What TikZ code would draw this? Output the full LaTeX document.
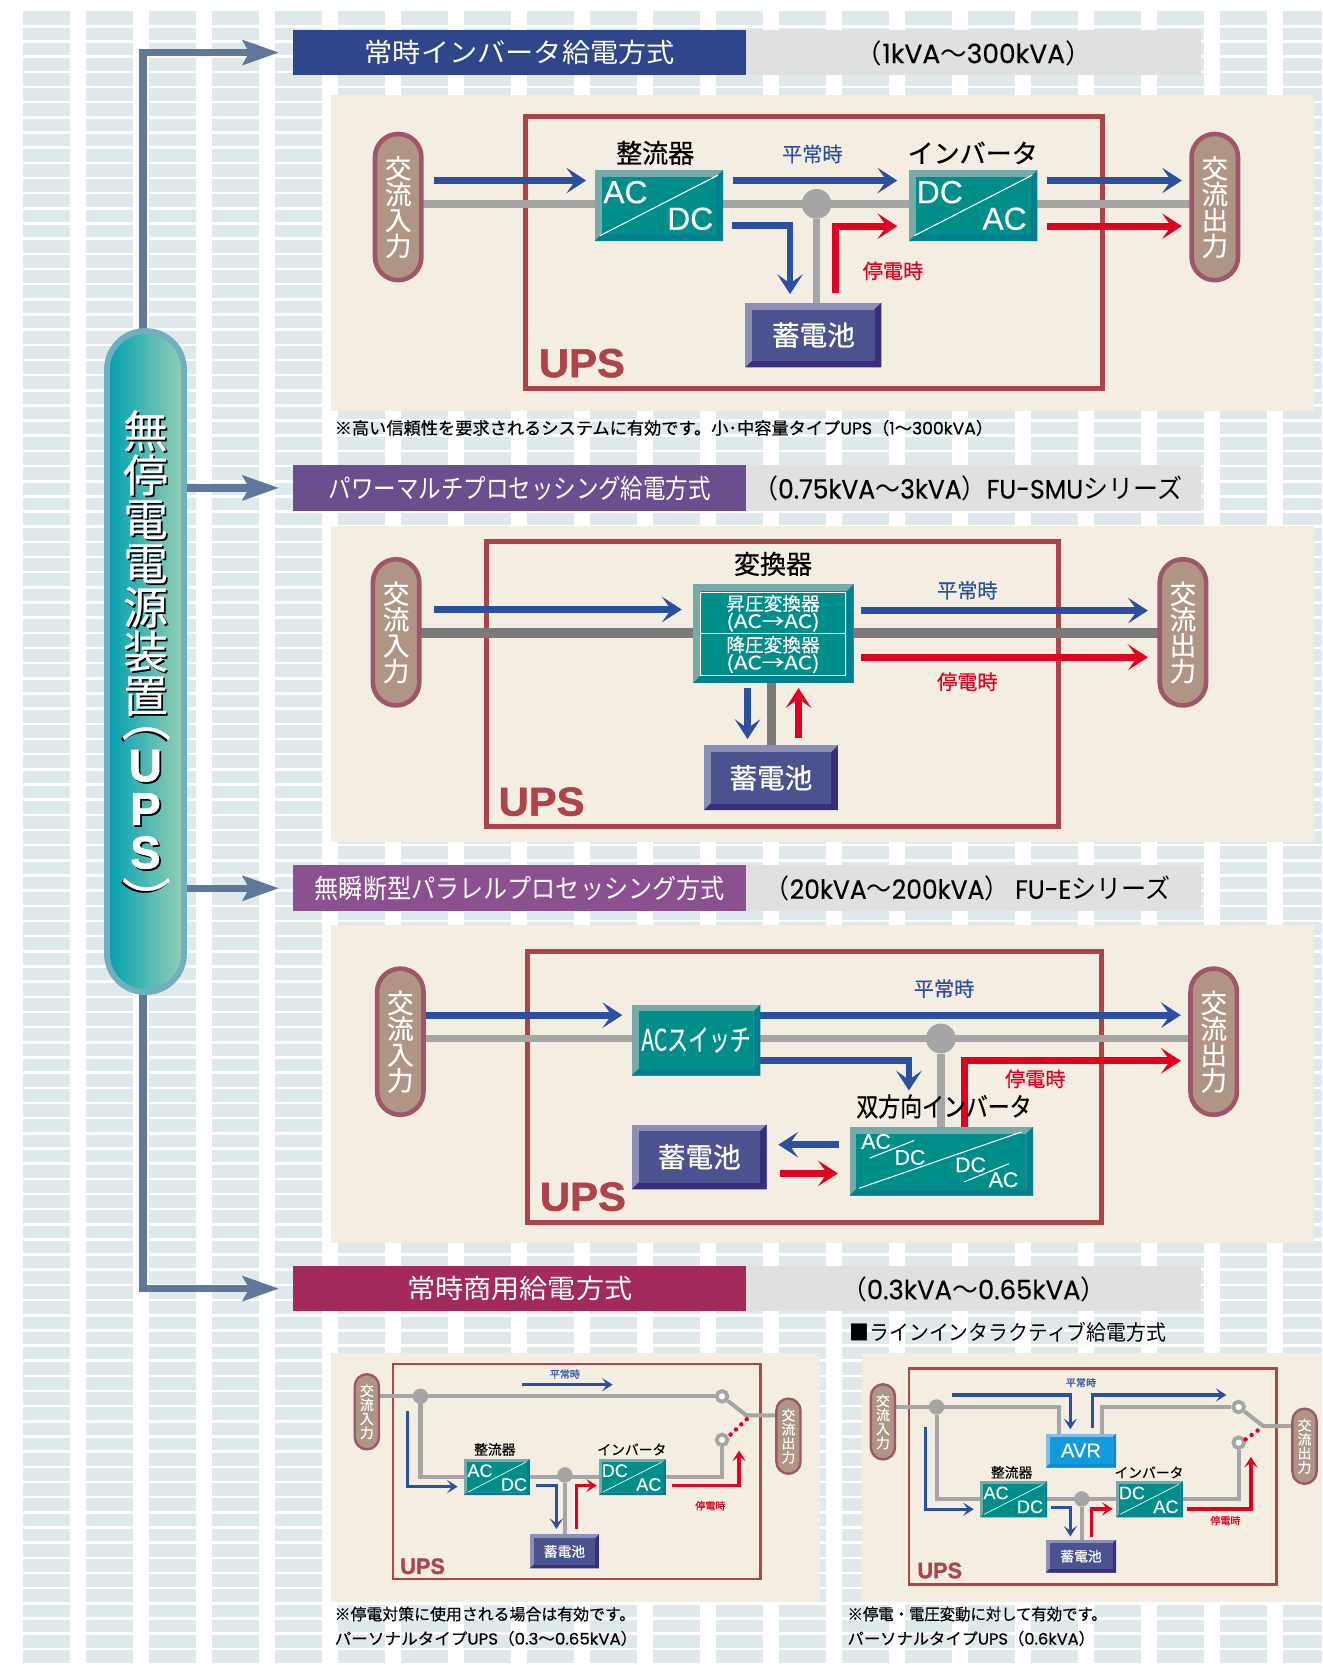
\documentclass[tikz,border=0pt]{standalone}
\usepackage{fontspec}
\usetikzlibrary{arrows.meta,calc,positioning}
\setmainfont{Noto Sans CJK JP}
\newfontfamily\jpm[FakeBold=0.7]{Noto Sans CJK JP}
\newfontfamily\jpl[FakeBold=0.35]{Noto Sans CJK JP}
\newfontfamily\lat[FakeBold=0.4]{Poppins}
\newfontfamily\hv[FakeBold=0.25]{Liberation Sans}
\newfontfamily\hvb{Liberation Sans}[BoldFeatures={FakeBold=1.4}]
\definecolor{gridc}{HTML}{DFE9EC}
\definecolor{panelc}{HTML}{F3EDE2}
\definecolor{boxred}{HTML}{AE444A}
\definecolor{wireg}{HTML}{A5A5A5}
\definecolor{wired}{HTML}{7A7A7A}
\definecolor{flowb}{HTML}{2B50A0}
\definecolor{flowr}{HTML}{E00020}
\definecolor{linkc}{HTML}{60789A}
\definecolor{pillf}{HTML}{B09585}
\definecolor{pilll}{HTML}{A0566A}
\definecolor{rateg}{HTML}{E0E0E0}
\definecolor{tealm}{HTML}{008E8A}\definecolor{tealt}{HTML}{78AAAA}\definecolor{tealb}{HTML}{007F8E}
\definecolor{navym}{HTML}{4C5290}\definecolor{navyt}{HTML}{8C90B4}\definecolor{navyb}{HTML}{372F7E}
\definecolor{avrm}{HTML}{0F9BDD}\definecolor{avrt}{HTML}{82BDE6}\definecolor{avrb}{HTML}{0F8BD0}
\pgfdeclarelayer{under}\pgfdeclarelayer{wires}
\pgfsetlayers{under,wires,main}
\newcommand\fs[1]{\fontsize{#1}{#1}\selectfont}
\newcommand\fitx[2]{\resizebox{#1pt}{\height}{#2}}
\newcommand\vchars[2]{\vbox{\baselineskip=#1pt\lineskip=0pt\lineskiplimit=-100pt\halign{\hfil##\hfil\cr #2\crcr}}}
\newcommand\shad[1]{\makebox[0pt][l]{\raisebox{-1.6pt}{\kern1.6pt\textcolor{black}{#1}}}#1}
\newcommand\ain{\vchars{24.3}{交\cr 流\cr 入\cr 力}}
\newcommand\aout{\vchars{24.3}{交\cr 流\cr 出\cr 力}}
\newcommand\ains{\vchars{13.2}{交\cr 流\cr 入\cr 力}}
\newcommand\aouts{\vchars{13.2}{交\cr 流\cr 出\cr 力}}
\newcommand\bevelbox[8]{% name,x1,y1,x2,y2,palette,bevel,text
 \node[inner sep=0pt,outer sep=0pt,fill=#6t,text=white,minimum width={(#4-#2)*1pt},minimum height={(#5-#3)*1pt},
  path picture={
   \coordinate (bbnw) at (path picture bounding box.north west);
   \coordinate (bbne) at (path picture bounding box.north east);
   \coordinate (bbsw) at (path picture bounding box.south west);
   \coordinate (bbse) at (path picture bounding box.south east);
   \fill[#6b] (bbsw)--(bbse)--(bbne)--($(bbne)+(-#7pt,-#7pt)$)--($(bbse)+(-#7pt,#7pt)$)--($(bbsw)+(#7pt,#7pt)$)--cycle;
   \fill[#6m] ($(bbnw)+(#7pt,-#7pt)$) rectangle ($(bbse)+(-#7pt,#7pt)$);
  }] (#1) at ({(#2+#4)/2},{(#3+#5)/2}) {#8};}
\newcommand\pill[7]{% name,cx,cy,w,h,fs,text
 \node[draw=pilll,fill=pillf,text=white,line width={#4*0.09pt},rounded corners={#4*0.455pt},inner sep=0pt,
  minimum width={#4*0.91pt},minimum height={(#5-#4*0.09)*1pt},font=\jpl\fs{#6}] (#1) at (#2,#3) {#7};}
\tikzset{x=1pt,y=-1pt,
 redbox/.style={draw=boxred,line width=4.5pt},
 redboxs/.style={draw=boxred,line width=2.6pt},
 gw/.style={draw=wireg,line width=7pt},
 gwd/.style={draw=wired,line width=8.8pt},
 gws/.style={draw=wireg,line width=3.8pt},
 fb/.style={draw=flowb,line width=6.5pt,-{Stealth[length=18.6pt,width=24pt,inset=8.5pt]}},
 fr/.style={draw=flowr,line width=6.5pt,-{Stealth[length=18.6pt,width=24pt,inset=8.5pt]}},
 fbs/.style={draw=flowb,line width=3.1pt,-{Stealth[length=10pt,width=12.5pt,inset=4.5pt]}},
 frs/.style={draw=flowr,line width=3.1pt,-{Stealth[length=10pt,width=12.5pt,inset=4.5pt]}},
 link/.style={draw=linkc,line width=7pt,-{Stealth[length=34pt,width=23pt,inset=6pt]}},
 dotsr/.style={draw=flowr,line width=4.2pt,line cap=round,dash pattern=on 0pt off 7pt},
 junc/.style={circle,fill=wireg,inner sep=0pt,minimum size=28pt},
 juncs/.style={circle,fill=wireg,inner sep=0pt,minimum size=14.5pt},
 ring/.style={circle,draw=wireg,fill=white,line width=3.6pt,inner sep=0pt,minimum size=10pt},
 diag/.style={draw=white,line width=1pt},
 lab/.style={inner sep=0pt,font=\jpm\fs{24.5}},
 cond/.style={inner sep=0pt,font=\jpl\fs{19}},
 conds/.style={inner sep=0pt,font=\jpl\fs{9.5}},
 labs/.style={inner sep=0pt,font=\jpl\fs{13}},
 ups/.style={inner sep=0pt,text=boxred,font=\hvb\bfseries\fs{38}},
 upss/.style={inner sep=0pt,text=boxred,font=\hvb\bfseries\fs{21}},
 big/.style={inner sep=0pt,text=white,font=\hv\fs{30}},
 sml/.style={inner sep=0pt,text=white,font=\hv\fs{17}},
 head/.style={inner sep=0pt,text=white,font=\fs{25}},
 rate/.style={inner sep=0pt,font=\fs{25}},
 note/.style={inner sep=0pt,anchor=west,font=\jpl\fs{16}},
 upsc/.style={inner sep=0pt,text=white,font=\jpl\fs{42}},
 upsl/.style={inner sep=0pt,text=white,font=\hvb\bfseries\fs{43}},
 hbar/.style={minimum width=427pt,minimum height=43pt,inner sep=0pt,head},
}
\begin{document}
\begin{tikzpicture}
\useasboundingbox (0,0) rectangle (1245,1568);
\begin{pgfonlayer}{under}
 \foreach \c in {0,...,20}{
  \pgfmathsetmacro\xa{21.8+59.3*\c}
  \pgfmathsetmacro\xb{min(\xa+44.4,1245)}
  \fill[gridc] (\xa,10.4) rectangle (\xb,23.5);
  \foreach \r in {0,...,107}{
   \pgfmathsetmacro\ya{26+14.28*\r}
   \pgfmathsetmacro\yb{min(\ya+11.9,1568)}
   \fill[gridc] (\xa,\ya) rectangle (\xb,\yb);
  }
 }
 \fill[rateg] (703,28) rectangle (1131,71);
 \fill[rateg] (703,438) rectangle (1131,481);
 \fill[rateg] (703,815) rectangle (1131,858);
 \fill[rateg] (703,1192) rectangle (1131,1235);
 \fill[panelc] (312,89) rectangle (1237,387);
 \fill[panelc] (312,495) rectangle (1237,793);
 \fill[panelc] (312,871) rectangle (1237,1171);
 \fill[panelc] (312,1274) rectangle (772,1509);
 \fill[panelc] (812,1274) rectangle (1245,1509);
 \draw[redbox] (495,110) rectangle (1038,366);
 \draw[redbox] (458,510) rectangle (997,778);
 \draw[redbox] (497,896) rectangle (1037,1151);
 \draw[redboxs] (370,1284.5) rectangle (716,1487);
 \draw[redboxs] (856,1288.5) rectangle (1202,1492);
\end{pgfonlayer}
% ===== header nodes
\node[fill={rgb,255:red,47;green,71;blue,138},hbar] (h1) at (489.5,49.5) {\fitx{292}{常時インバータ給電方式}};
\node[fill={rgb,255:red,106;green,78;blue,142},hbar] (h2) at (489.5,459.5) {\fitx{360}{パワーマルチプロセッシング給電方式}};
\node[fill={rgb,255:red,138;green,80;blue,144},hbar] (h3) at (489.5,836.5) {\fitx{386}{無瞬断型パラレルプロセッシング方式}};
\node[fill={rgb,255:red,162;green,42;blue,92},hbar] (h4) at (489.5,1213.5) {\fitx{212}{常時商用給電方式}};
\node[rate] (r1) at (917,50) {\fitx{222}{（{\lat 1kVA}～{\lat 300kVA}）}};
\node[rate,anchor=west] (r2) at (709,460) {\fitx{404}{（{\lat 0.75kVA}～{\lat 3kVA}）{\lat FU-SMU}シリーズ}};
\node[rate,anchor=west] (r3) at (720,837) {\fitx{382}{（{\lat 20kVA}～{\lat 200kVA}） {\lat FU-E}シリーズ}};
\node[rate] (r4) at (917,1214) {\fitx{250}{（{\lat 0.3kVA}～{\lat 0.65kVA}）}};
% ===== main UPS pill
\node[draw={rgb,255:red,111;green,175;blue,191},line width=5.5pt,rounded corners=36pt,left color={rgb,255:red,0;green,160;blue,176},right color={rgb,255:red,152;green,206;blue,182},minimum width=72.5pt,minimum height=622.5pt,inner sep=0pt] (ups) at (137,623) {};
\node[upsc] (upst) at (137,531) {\vchars{41.5}{\shad{無}\cr\shad{停}\cr\shad{電}\cr\shad{電}\cr\shad{源}\cr\shad{装}\cr\shad{置}}};
\node[upsc,rotate=-90,font=\jpl\fs{46}] (upsa) at (137,676) {\shad{（}};
\node[upsl] (upsu) at (137,763) {\vchars{41}{\shad{U}\cr\shad{P}\cr\shad{S}}};
\node[upsc,rotate=-90,font=\jpl\fs{46}] (upsb) at (137,848) {\shad{）}};
\coordinate (h1t) at ($(h1.west)+(-13pt,0)$);
\coordinate (h2t) at ($(h2.west)+(-13pt,0)$);
\coordinate (h3t) at ($(h3.west)+(-13pt,0)$);
\coordinate (h4t) at ($(h4.west)+(-13pt,0)$);
\coordinate (upsN) at (134.5,310);
\coordinate (upsS) at (134.5,936);
\begin{pgfonlayer}{wires}
 \draw[link] (upsN) |- (h1t);
 \draw[link] (ups.east |- h2t) -- (h2t);
 \draw[link] (ups.east |- h3t) -- (h3t);
 \draw[link] (upsS) |- (h4t);
\end{pgfonlayer}
% ===== diagram 1
\pill{aL}{375}{195}{48}{142}{25}{\ain}
\pill{aR}{1144}{195}{48}{142}{25}{\aout}
\bevelbox{aRect}{560}{160}{681}{227}{teal}{6.5}{}
\bevelbox{aInv}{856}{160}{977}{227}{teal}{6.5}{}
\bevelbox{aBat}{702}{285}{830}{346}{navy}{6.5}{\jpm\fs{26}蓄電池}
\node[junc] (aJ) at (769,192) {};
\draw[diag] ($(aRect.south west)+(5,-5)$) -- ($(aRect.north east)+(-5,5)$);
\draw[diag] ($(aInv.south west)+(5,-5)$) -- ($(aInv.north east)+(-5,5)$);
\node[big] at (589,181) (aT1) {AC}; \node[big] at (650,206) (aT2) {DC};
\node[big] at (885,181) (aT3) {DC}; \node[big] at (946,206) (aT4) {AC};
\node[lab] (aLr) at (617,144) {整流器};
\node[lab] (aLi) at (916,144) {インバータ};
\node[cond,text=flowb] (aN) at (765,145) {平常時};
\node[cond,text=flowr] (aF) at (841,255) {停電時};
\node[ups] (aU) at (548,342) {\fitx{81}{UPS}};
\coordinate (a1) at (409,170); \coordinate (a2) at (552,170);
\coordinate (a3) at (690,170); \coordinate (a4) at (845,170);
\coordinate (a5) at (986,170); \coordinate (a6) at (1113,170);
\coordinate (a7) at (986,213); \coordinate (a8) at (1113,213);
\coordinate (a9) at (787,276); \coordinate (a10) at (845,213);
\coordinate (a11) at (689,212); \coordinate (a12) at (744,277);
\begin{pgfonlayer}{wires}
 \draw[gw] (aL |- aJ) -- (aR |- aJ);
 \draw[gw] (aJ) -- (aJ |- aBat.north);
 \draw[fb] (a1) -- (a2); \draw[fb] (a3) -- (a4); \draw[fb] (a5) -- (a6);
 \draw[fr] (a7) -- (a8);
 \draw[fr] (a9) |- (a10);
 \draw[fb] (a11) -| (a12);
\end{pgfonlayer}
% ===== diagram 2
\pill{bL}{373}{595.5}{48}{142}{25}{\ain}
\pill{bR}{1114}{595.5}{48}{142}{25}{\aout}
\bevelbox{bConv}{653}{550}{804}{643}{teal}{7}{}
\node[draw=white,line width=1pt,minimum width=137pt,minimum height=39pt,inner sep=0pt,text=white,font=\jpl\fs{17.5}] (bUp) at (728,577.5) {\vchars{16.5}{\fitx{88}{昇圧変換器}\cr\fitx{88}{(AC→AC)}}};
\node[draw=white,line width=1pt,minimum width=137pt,minimum height=39pt,inner sep=0pt,text=white,font=\jpl\fs{17.5}] (bDn) at (728,616.5) {\vchars{16.5}{\fitx{88}{降圧変換器}\cr\fitx{88}{(AC→AC)}}};
\bevelbox{bBat}{663}{702}{789}{763}{navy}{6.5}{\jpm\fs{26}蓄電池}
\node[lab] (bLc) at (728,531) {変換器};
\node[cond,text=flowb] (bN) at (911,556) {平常時};
\node[cond,text=flowr] (bF) at (911,642) {停電時};
\node[ups] (bU) at (510,755) {\fitx{81}{UPS}};
\coordinate (b1) at (409,574); \coordinate (b2) at (642,574);
\coordinate (b3) at (811,575); \coordinate (b4) at (1081,575);
\coordinate (b5) at (811,619); \coordinate (b6) at (1081,619);
\coordinate (b7) at (704,648); \coordinate (b8) at (704,696);
\coordinate (b9) at (752,695); \coordinate (b10) at (752,648);
\coordinate (bJ) at (727,596);
\begin{pgfonlayer}{wires}
 \draw[gwd] (bL |- bJ) -- (bR |- bJ);
 \draw[draw=wired,line width=8.5pt] (bJ |- bConv.south) -- (bJ |- bBat.north);
 \draw[fb] (b1) -- (b2); \draw[fb] (b3) -- (b4); \draw[fr] (b5) -- (b6);
 \draw[fb] (b7) -- (b8); \draw[fr] (b9) -- (b10);
\end{pgfonlayer}
% ===== diagram 3
\pill{cL}{377}{981}{48}{142}{25}{\ain}
\pill{cR}{1143}{981}{48}{142}{25}{\aout}
\bevelbox{cSw}{595}{946}{716}{1013}{teal}{6.5}{\fitx{103}{\jpl\fs{28}ACスイッチ}}
\bevelbox{cBat}{595}{1059}{722}{1120}{navy}{6.5}{\jpm\fs{26}蓄電池}
\bevelbox{cInv}{800}{1061}{973}{1126}{teal}{6.5}{}
\node[junc] (cJ) at (886,978) {};
\draw[diag] (809,1119) -- (962,1066);
\draw[diag] (819,1090.6) -- (861,1074);
\draw[diag] (908,1113) -- (950,1096);
\node[sml,font=\hv\fs{20}] (cT1) at (825,1075) {AC};
\node[sml,font=\hv\fs{20}] (cT2) at (857,1090) {DC};
\node[sml,font=\hv\fs{20}] (cT3) at (914,1097) {DC};
\node[sml,font=\hv\fs{20}] (cT4) at (945,1111) {AC};
\node[lab] (cLi) at (889,1042) {\fitx{165}{双方向インバータ}};
\node[cond,text=flowb] (cN) at (889,931) {平常時};
\node[cond,text=flowr] (cF) at (975,1016) {停電時};
\node[ups] (cU) at (549,1127) {\fitx{81}{UPS}};
\coordinate (c1) at (401,956); \coordinate (c2) at (586,956);
\coordinate (c3) at (716,956); \coordinate (c4) at (1112,956);
\coordinate (c5) at (716,999); \coordinate (c6) at (856,1027);
\coordinate (c7) at (908,1061); \coordinate (c8) at (1112,999);
\coordinate (c9) at (790,1078); \coordinate (c10) at (733,1078);
\coordinate (c11) at (735,1105); \coordinate (c12) at (789,1105);
\begin{pgfonlayer}{wires}
 \draw[gw] (cL |- cJ) -- (cR |- cJ);
 \draw[gw] (cJ) -- (cJ |- cInv.north);
 \draw[fb] (c1) -- (c2); \draw[fb] (c3) -- (c4);
 \draw[fb] (c5) -| (c6);
 \draw[fr] (c7) |- (c8);
 \draw[fb] (c9) -- (c10); \draw[fr] (c11) -- (c12);
\end{pgfonlayer}
% ===== diagram 4
\pill{dL}{345.5}{1329.5}{25}{73}{13}{\ains}
\pill{dR}{742.5}{1352.5}{25}{73}{13}{\aouts}
\bevelbox{dRect}{437}{1374}{499}{1408}{teal}{2.5}{}
\bevelbox{dInv}{564}{1374}{627}{1408}{teal}{2.5}{}
\bevelbox{dBat}{499}{1445}{564}{1477}{navy}{3.5}{\jpl\fs{13}蓄電池}
\node[juncs] (dJ1) at (396,1315) {};
\node[juncs] (dJ2) at (532,1389) {};
\node[ring] (dS1) at (680,1315) {};
\node[ring] (dS2) at (680,1356) {};
\coordinate (dS3) at (703,1333);
\draw[diag,line width=.6pt] (441,1405) -- (495,1377);
\draw[diag,line width=.6pt] (568,1405) -- (623,1377);
\node[sml] (dT1) at (452,1385) {AC}; \node[sml] (dT2) at (484,1398) {DC};
\node[sml] (dT3) at (579,1385) {DC}; \node[sml] (dT4) at (611,1398) {AC};
\node[labs] (dLr) at (466,1365) {整流器};
\node[labs] (dLi) at (595,1365) {インバータ};
\node[conds,text=flowb] (dN) at (532,1294) {平常時};
\node[conds,text=flowr] (dF) at (669,1418) {停電時};
\node[upss] (dU) at (398,1475) {\fitx{42}{UPS}};
\node[note,font=\jpl\fs{15}] (dM1) at (315,1520) {\fitx{283}{※停電対策に使用される場合は有効です。}};
\node[note,font=\jpl\fs{15}] (dM2) at (315,1543) {\fitx{285}{パーソナルタイプ{\lat UPS}（{\lat 0.3}～{\lat 0.65kVA}）}};
\coordinate (d1) at (492,1304); \coordinate (d2) at (577,1304);
\coordinate (d3) at (384,1329); \coordinate (d4) at (431,1400);
\coordinate (d5) at (505,1399); \coordinate (d6) at (524,1440);
\coordinate (d7) at (543,1440); \coordinate (d8) at (562,1399);
\coordinate (d9) at (633,1399); \coordinate (d10) at (696,1366);
\begin{pgfonlayer}{wires}
 \draw[gws] (dL |- dJ1) -- (dS1);
 \draw[gws] (dJ1) |- (dRect);
 \draw[gws] (dRect) -- (dInv);
 \draw[gws] (dJ2) -- (dJ2 |- dBat.north);
 \draw[gws] (dInv) -| (dS2);
 \draw[gws,line join=round] (dS1) -- (dS3) -- (dS3 -| dR.center);
 \draw[fbs] (d1) -- (d2);
 \draw[fbs] (d3) |- (d4);
 \draw[fbs] (d5) -| (d6);
 \draw[frs] (d7) |- (d8);
 \draw[frs] (d9) -| (d10);
\end{pgfonlayer}
\draw[dotsr] (688,1351) -- (703.2,1336.5);
% ===== diagram 5
\node[inner sep=0pt,anchor=west] (eH) at (800,1255) {\fitx{298}{\fs{20}■ラインインタラクティブ給電方式}};
\pill{eL}{831.5}{1339}{25}{73}{13}{\ains}
\pill{eR}{1228.5}{1362}{25}{73}{13}{\aouts}
\bevelbox{eAvr}{985}{1350}{1051}{1382}{avr}{3.5}{\hv\fs{19}AVR}
\bevelbox{eRect}{923}{1395}{986}{1429}{teal}{2.5}{}
\bevelbox{eInv}{1051}{1395}{1114}{1429}{teal}{2.5}{}
\bevelbox{eBat}{985}{1450}{1051}{1481}{navy}{3.5}{\jpl\fs{13}蓄電池}
\node[juncs] (eJ1) at (882,1325) {};
\node[juncs] (eJ2) at (1018.7,1411.6) {};
\node[ring] (eS1) at (1166.5,1325) {};
\node[ring] (eS2) at (1166.5,1358.6) {};
\coordinate (eS3) at (1189.6,1343);
\coordinate (eA1) at (997.5,1350); \coordinate (eA2) at (1038,1350);
\draw[diag,line width=.6pt] (927,1426) -- (982,1398);
\draw[diag,line width=.6pt] (1055,1426) -- (1110,1398);
\node[sml] (eT1) at (938,1406) {AC}; \node[sml] (eT2) at (970,1419) {DC};
\node[sml] (eT3) at (1066,1406) {DC}; \node[sml] (eT4) at (1098,1419) {AC};
\node[labs] (eLr) at (952.7,1386.6) {整流器};
\node[labs] (eLi) at (1082,1386.6) {インバータ};
\node[conds,text=flowb] (eN) at (1018,1302) {平常時};
\node[conds,text=flowr] (eF) at (1154,1432) {停電時};
\node[upss] (eU) at (885,1479) {\fitx{42}{UPS}};
\node[note,font=\jpl\fs{15}] (eM1) at (798,1520) {\fitx{244}{※停電・電圧変動に対して有効です。}};
\node[note,font=\jpl\fs{15}] (eM2) at (798,1543) {\fitx{233}{パーソナルタイプ{\lat UPS}（{\lat 0.6kVA}）}};
\coordinate (e1) at (896.5,1313.7); \coordinate (e2) at (1008,1346);
\coordinate (e3) at (1028.6,1345); \coordinate (e4) at (1155,1313.7);
\coordinate (e5) at (871.7,1344); \coordinate (e6) at (917,1421.3);
\coordinate (e7) at (990,1419.8); \coordinate (e8) at (1008,1447);
\coordinate (e9) at (1027.7,1447); \coordinate (e10) at (1047.8,1421);
\coordinate (e11) at (1117.5,1421); \coordinate (e12) at (1178,1372);
\begin{pgfonlayer}{wires}
 \draw[gws] (eL |- eJ1) -| (eA1);
 \draw[gws] (eA2) |- (eS1);
 \draw[gws] (eJ1) |- (eRect);
 \draw[gws] (eRect) -- (eInv);
 \draw[gws] (eJ2) -- (eJ2 |- eBat.north);
 \draw[gws] (eInv) -| (eS2);
 \draw[gws,line join=round] (eS1) -- (eS3) -- (eS3 -| eR.center);
 \draw[fbs] (e1) -| (e2);
 \draw[fbs] (e3) |- (e4);
 \draw[fbs] (e5) |- (e6);
 \draw[fbs] (e7) -| (e8);
 \draw[frs] (e9) |- (e10);
 \draw[frs] (e11) -| (e12);
\end{pgfonlayer}
\draw[dotsr] (1173,1355.5) -- (1188,1344.5);
\node[note] (aM) at (315,403) {\fitx{620}{※高い信頼性を要求されるシステムに有効です。小･中容量タイプ{\lat UPS}（{\lat 1}～{\lat 300kVA}）}};
\end{tikzpicture}
\end{document}
